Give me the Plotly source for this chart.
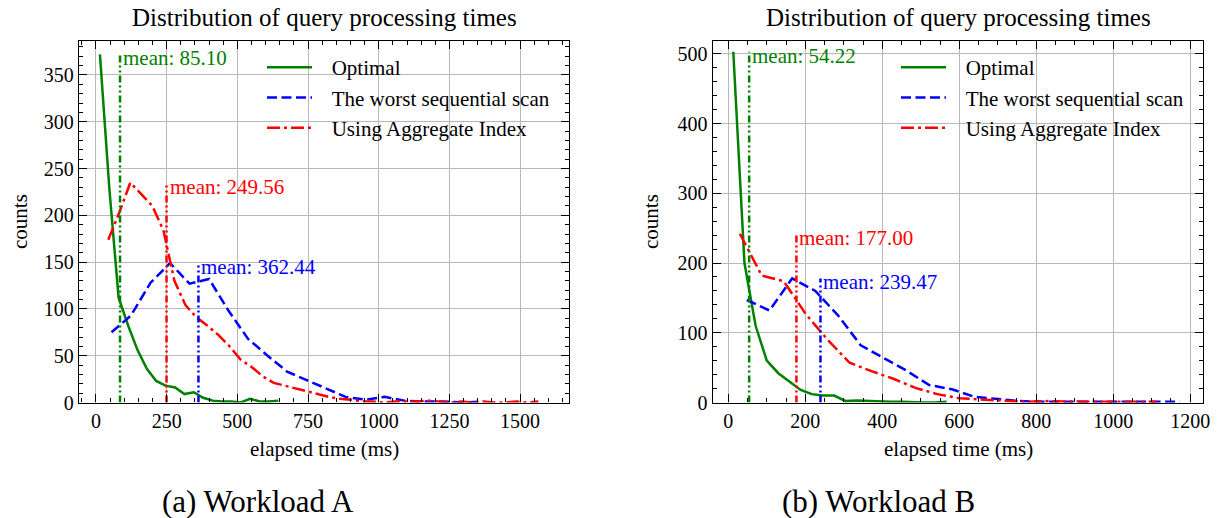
import plotly.graph_objects as go

# ---------------- data ----------------
series_names = ["Optimal", "The worst sequential scan", "Using Aggregate Index"]

# Workload A
a_opt_x = [14, 47, 80, 114, 147, 180, 213, 246, 280, 313, 346, 379, 413, 446, 479, 512, 545, 579, 612, 645]
a_opt_y = [372, 230, 112, 82, 56, 36, 23, 18, 16, 9, 11, 5, 2, 1, 1, 0, 4, 1, 1, 2]
a_seq_x = [55, 124, 193, 262, 331, 400, 469, 538, 607, 676, 745, 814, 883, 952, 1021, 1090, 1159, 1228, 1297, 1366]
a_seq_y = [75, 93, 128, 149, 127, 132, 98, 68, 50, 33, 24, 15, 6, 3, 6, 2, 1, 1, 0, 1]
a_agg_x = [43.5, 82.5, 121.5, 160.5, 199.5, 238.5, 277.5, 316.5, 355.5, 394.5,
           433.5, 472.5, 511.5, 550.5, 589.5, 628.5, 667.5, 706.5, 745.5, 784.5,
           823.5, 862.5, 901.5, 940.5, 979.5, 1018.5, 1057.5, 1096.5, 1135.5, 1174.5,
           1213.5, 1252.5, 1291.5, 1330.5, 1369.5, 1408.5, 1447.5, 1486.5, 1525.5, 1564.5]
a_agg_y = [174, 203, 235, 223, 210, 184, 130, 104, 91, 82,
           72, 60, 46, 38, 28, 21, 18, 15, 12, 9,
           6, 4, 3, 1, 1, 0, 1, 1, 1, 2,
           1, 0, 1, 0, 1, 0, 0, 1, 0, 1]
a_means = [85.10, 362.44, 249.56]

# Workload B
b_opt_x = [13, 42, 71, 100, 130, 159, 188, 217, 246, 275, 305, 334, 363, 392, 421, 450, 480, 509, 538, 567]
b_opt_y = [503, 200, 110, 60, 42, 30, 18, 12, 10, 10, 2, 3, 2, 1, 1, 1, 0, 0, 0, 1]
b_seq_x = [48, 107, 166, 226, 285, 344, 403, 462, 522, 581, 640, 699, 758, 818, 877, 936, 995, 1054, 1114, 1173]
b_seq_y = [147, 132, 178, 160, 125, 82, 64, 46, 25, 19, 8, 5, 2, 1, 1, 1, 1, 1, 0, 1]
b_agg_x = [30, 87, 144, 201, 258, 315, 372, 429, 486, 543, 600, 657, 714, 771, 828, 885, 942, 999, 1056, 1113]
b_agg_y = [242, 182, 174, 127, 90, 57, 45, 34, 21, 12, 6, 4, 3, 1, 2, 1, 1, 1, 1, 1]
b_means = [54.22, 239.47, 177.00]

a_xticks = [0, 250, 500, 750, 1000, 1250, 1500]
a_yticks = [0, 50, 100, 150, 200, 250, 300, 350]
b_xticks = [0, 200, 400, 600, 800, 1000, 1200]
b_yticks = [0, 100, 200, 300, 400, 500]

title_text = "Distribution of query processing times"
xlabel_text = "elapsed time (ms)"
ylabel_text = "counts"
captions = ["(a) Workload A", "(b) Workload B"]

# ---------------- style ----------------
FONT = "Liberation Serif"
colors = ["#008000", "#0000ff", "#ff0000"]
dashes = ["solid", "10px,4.5px", "13px,4px,3px,4px"]
mean_dash = "7px,3px,2px,3px,2px,3px"
W, H = 1226, 518
LEG_PAD = "\u2002\u2009"  # visual gap between legend line and label


def px(x):
    return x / W


def py(y):
    return 1 - y / H


fig = go.Figure()

panels = [
    dict(xs=[a_opt_x, a_seq_x, a_agg_x], ys=[a_opt_y, a_seq_y, a_agg_y], means=a_means,
         xa="x", ya="y", legend="legend"),
    dict(xs=[b_opt_x, b_seq_x, b_agg_x], ys=[b_opt_y, b_seq_y, b_agg_y], means=b_means,
         xa="x2", ya="y2", legend="legend2"),
]

annotations = []
for p in panels:
    for i in range(3):
        fig.add_trace(go.Scatter(
            x=p["xs"][i], y=p["ys"][i], mode="lines", name=LEG_PAD + series_names[i],
            line=dict(color=colors[i], width=2.5, dash=dashes[i]),
            xaxis=p["xa"], yaxis=p["ya"], legend=p["legend"],
        ))
    for i in range(3):
        m = p["means"][i]
        top = max(p["ys"][i])
        fig.add_trace(go.Scatter(
            x=[m, m], y=[0, top], mode="lines", showlegend=False,
            line=dict(color=colors[i], width=2.5, dash=mean_dash),
            xaxis=p["xa"], yaxis=p["ya"],
        ))
        annotations.append(dict(
            x=m, y=top, xref=p["xa"], yref=p["ya"], text=f"mean: {m:.2f}",
            showarrow=False, xanchor="left", yanchor="middle", xshift=1, yshift=-4,
            font=dict(family=FONT, size=21, color=colors[i]),
        ))

# axis geometry (pixels)
left_dom = [px(79), px(569.3)]
right_dom = [px(712.7), px(1203.3)]
y_dom = [py(402.5), py(41.3)]


def axis_common():
    return dict(
        showline=True, linecolor="black", linewidth=1.3, mirror="allticks",
        ticks="inside", ticklen=8, tickwidth=1.2, tickcolor="black",
        showgrid=True, gridcolor="#b8b8b8", gridwidth=1, zeroline=False,
        tickfont=dict(family=FONT, size=20, color="black"),
        automargin=False,
    )


fig.update_layout(
    xaxis=dict(domain=left_dom, range=[-60, 1674], anchor="y", tickvals=a_xticks,
               minor=dict(ticks="inside", ticklen=4, tickcolor="black", dtick=50, tick0=0, showgrid=False),
               **axis_common()),
    yaxis=dict(domain=y_dom, range=[0, 386], anchor="x", tickvals=a_yticks,
               minor=dict(ticks="inside", ticklen=4, tickcolor="black", dtick=10, tick0=0, showgrid=False),
               **axis_common()),
    xaxis2=dict(domain=right_dom, range=[-40.5, 1234], anchor="y2", tickvals=b_xticks,
                minor=dict(ticks="inside", ticklen=4, tickcolor="black", dtick=50, tick0=0, showgrid=False),
                **axis_common()),
    yaxis2=dict(domain=y_dom, range=[0, 518], anchor="x2", tickvals=b_yticks,
                minor=dict(ticks="inside", ticklen=4, tickcolor="black", dtick=20, tick0=0, showgrid=False),
                **axis_common()),
)

leg_common = dict(
    xref="paper", yref="paper", xanchor="left", yanchor="top",
    bgcolor="rgba(0,0,0,0)", borderwidth=0,
    font=dict(family=FONT, size=21, color="black"),
    itemwidth=45,
)
fig.update_layout(
    legend=dict(x=px(262), y=py(47), **leg_common),
    legend2=dict(x=px(896), y=py(47), **leg_common),
)

# titles, axis labels, captions
for cx in [324.2, 958]:
    annotations.append(dict(x=px(cx), y=py(17), xref="paper", yref="paper", text=title_text,
                            showarrow=False, xanchor="center", yanchor="middle",
                            font=dict(family=FONT, size=25, color="black")))
    annotations.append(dict(x=px(cx), y=py(449), xref="paper", yref="paper", text=xlabel_text,
                            showarrow=False, xanchor="center", yanchor="middle",
                            font=dict(family=FONT, size=21, color="black")))
for cx in [20, 651]:
    annotations.append(dict(x=px(cx), y=py(222), xref="paper", yref="paper", text=ylabel_text,
                            showarrow=False, xanchor="center", yanchor="middle", textangle=-90,
                            font=dict(family=FONT, size=21, color="black")))
for cx, cap in zip([258, 878], captions):
    annotations.append(dict(x=px(cx), y=py(501), xref="paper", yref="paper", text=cap,
                            showarrow=False, xanchor="center", yanchor="middle",
                            font=dict(family=FONT, size=31, color="black")))

fig.update_layout(
    annotations=annotations,
    width=W, height=H, autosize=False,
    margin=dict(l=0, r=0, t=0, b=0),
    paper_bgcolor="white", plot_bgcolor="white",
    hovermode=False,
)

fig.write_html("out.html")
